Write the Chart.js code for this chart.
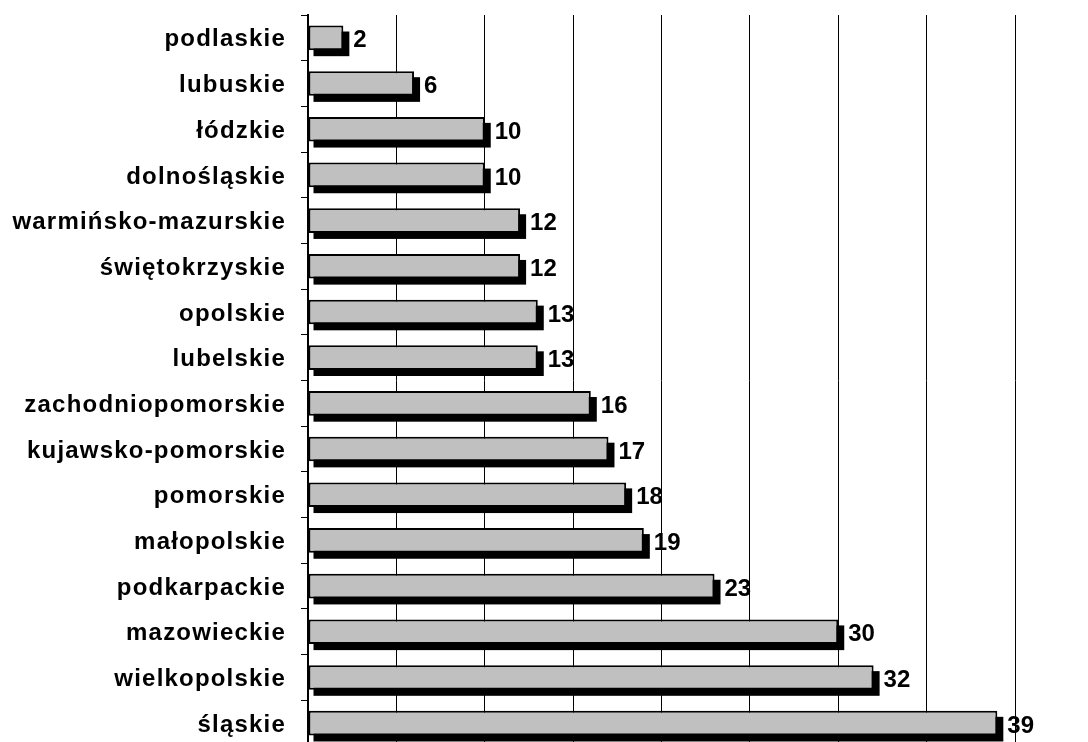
<!DOCTYPE html>
<html>
<head>
<meta charset="utf-8">
<script src="https://cdn.jsdelivr.net/npm/chart.js@4"></script>
<style>
  html, body { margin: 0; padding: 0; background: #fff; overflow: hidden; }
  #wrap { width: 1088px; height: 750px; }
</style>
</head>
<body>
<div id="wrap"><canvas id="barChart"></canvas></div>
<script>
var regions = ['podlaskie', 'lubuskie', 'łódzkie', 'dolnośląskie', 'warmińsko-mazurskie',
    'świętokrzyskie', 'opolskie', 'lubelskie', 'zachodniopomorskie', 'kujawsko-pomorskie',
    'pomorskie', 'małopolskie', 'podkarpackie', 'mazowieckie', 'wielkopolskie', 'śląskie']
var counts = [2, 6, 10, 10, 12, 12, 13, 13, 16, 17, 18, 19, 23, 30, 32, 39]

var labelFont = 'bold 24px "Liberation Sans", Arial, sans-serif'

// wider letter spacing for the region names
var spacedText = {
    id: 'spacedText',
    beforeDraw: function (chart) { chart.ctx.letterSpacing = '1.2px' },
    afterDraw: function (chart) { chart.ctx.letterSpacing = '0px' }
}

// black drop shadow behind every bar
var barShadow = {
    id: 'barShadow',
    beforeDatasetsDraw: function (chart) {
        var ctx = chart.ctx
        var meta = chart.getDatasetMeta(0)
        ctx.save()
        ctx.fillStyle = '#000'
        meta.data.forEach(function (bar) {
            var p = bar.getProps(['x', 'y', 'base', 'height'], true)
            ctx.fillRect(p.base + 5, p.y - p.height / 2 + 6, p.x - p.base + 1, p.height)
        })
        ctx.restore()
    }
}

// value printed right of each bar
var barValues = {
    id: 'barValues',
    afterDatasetsDraw: function (chart) {
        var ctx = chart.ctx
        var meta = chart.getDatasetMeta(0)
        ctx.save()
        ctx.letterSpacing = '0px'
        ctx.font = labelFont
        ctx.fillStyle = '#000'
        ctx.textAlign = 'left'
        ctx.textBaseline = 'middle'
        meta.data.forEach(function (bar, i) {
            var p = bar.getProps(['x', 'y'], true)
            ctx.fillText(counts[i], p.x + 10, p.y + 3)
        })
        ctx.restore()
    }
}

var barCanvas = document.getElementById('barChart').getContext('2d')
new Chart(barCanvas, {
    type: 'bar',
    data: {
        labels: regions,
        datasets: [{
            data: counts,
            backgroundColor: '#c0c0c0',
            borderColor: '#000',
            borderWidth: 2,
            borderSkipped: false,
            categoryPercentage: 1,
            barPercentage: 0.54
        }]
    },
    options: {
        indexAxis: 'y',
        maintainAspectRatio: false,
        responsive: true,
        animation: false,
        layout: { padding: { top: 15, right: 73, bottom: 4, left: 0 } },
        plugins: {
            legend: { display: false },
            tooltip: { enabled: false }
        },
        scales: {
            x: {
                min: 0,
                max: 40,
                afterFit: function (scale) { scale.height = 0 },
                ticks: { display: false, stepSize: 5 },
                grid: { color: '#000', lineWidth: 1, drawTicks: false },
                border: { display: false }
            },
            y: {
                afterFit: function (scale) {
                    scale.width = 308
                    scale.paddingTop = 0
                    scale.paddingBottom = 0
                },
                ticks: {
                    color: '#000',
                    font: { family: '"Liberation Sans", Arial, sans-serif', size: 24, weight: 'bold' },
                    padding: 15,
                    labelOffset: 2
                },
                grid: { drawOnChartArea: false, color: '#000', tickLength: 7, offset: true },
                border: { color: '#000', width: 2 }
            }
        }
    },
    plugins: [spacedText, barShadow, barValues]
})
</script>
</body>
</html>
